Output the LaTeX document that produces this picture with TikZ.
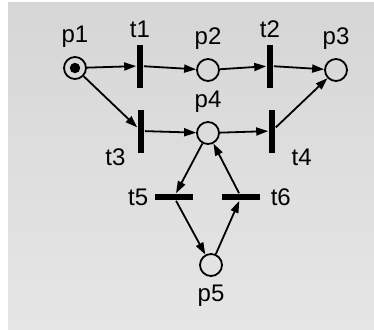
\documentclass[tikz,border=0pt]{standalone}
\usepackage{fontspec}
\setmainfont{Liberation Sans}
\usepackage{tikz}
\usetikzlibrary{arrows.meta,positioning}
\definecolor{pnback}{HTML}{D6D6D6}
\definecolor{pnbacklight}{HTML}{E6E6E6}
\tikzset{
pnplace/.style={circle,draw,line width=0.9pt,minimum size=11pt,inner sep=0pt},
pnvbar/.style={rectangle,fill,minimum width=3.4pt,minimum height=21.5pt,inner sep=0pt},
pnhbar/.style={rectangle,fill,minimum width=19pt,minimum height=3.4pt,inner sep=0pt},
pnarr/.style={-{Triangle[length=6pt,width=4pt]},line width=0.9pt},
pnlabel/.style={font=\large,inner sep=1pt}
}
\begin{document}
\begin{tikzpicture}[
x=0.5pt,
y=-0.5pt,
every label/.style={pnlabel}
]
\useasboundingbox (0,0) rectangle (374,329);
\shade[top color=pnback,bottom color=pnbacklight] (8,2) rectangle (374,329);
% places
\node[pnplace,label={[label distance=3pt]above:p1}] (p1) at (75,68) {};
\node[pnplace,label={[label distance=3pt]above:p2}] (p2) at (208,70) {};
\node[pnplace,label={[label distance=3pt]above:p3}] (p3) at (336,70) {};
\node[pnplace,label={[label distance=3pt]above:p4}] (p4) at (208,133) {};
\node[pnplace,label={[label distance=3pt]below:p5}] (p5) at (211,265) {};
\fill (p1) circle (2.6pt);
% transitions
\node[pnvbar,label={[label distance=2pt]above:t1}] (t1) at (140,66) {};
\node[pnvbar,label={[label distance=2pt]above:t2}] (t2) at (270,66) {};
\node[pnvbar,label={[label distance=1pt,xshift=-4pt,yshift=-5pt]below left:t3}] (t3) at (141,131) {};
\node[pnvbar,label={[label distance=1pt,xshift=6pt,yshift=-5pt]below right:t4}] (t4) at (272,131) {};
\node[pnhbar,label={[label distance=2pt]left:t5}] (t5) at (174,197) {};
\node[pnhbar,label={[label distance=4pt]right:t6}] (t6) at (241,197) {};
% arcs
\draw[pnarr] (p1)--(t1);
\draw[pnarr] (t1)--(p2);
\draw[pnarr] (p2)--(t2);
\draw[pnarr] (t2)--(p3);
\draw[pnarr] (p1)--(t3);
\draw[pnarr] (t3)--(p4);
\draw[pnarr] (p4)--(t4);
\draw[pnarr] (t4)--(p3);
\draw[pnarr] (p4)--(t5);
\draw[pnarr] (t5)--(p5);
\draw[pnarr] (p5)--(t6);
\draw[pnarr] (t6)--(p4);
\end{tikzpicture}
\end{document}
